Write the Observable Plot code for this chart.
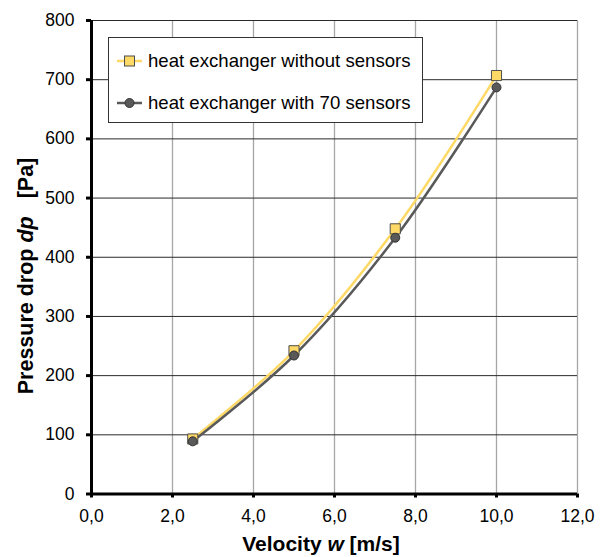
<!DOCTYPE html>
<html>
<head>
<meta charset="utf-8">
<script src="https://cdn.jsdelivr.net/npm/d3@7"></script>
<script src="https://cdn.jsdelivr.net/npm/@observablehq/plot@0.6"></script>
<style>
  html, body { margin: 0; padding: 0; background: #fff; }
  #wrap { position: relative; width: 606px; height: 557px; font-family: "Liberation Sans", Arial, sans-serif; }
  #legend { position: absolute; left: 108px; top: 37px; width: 315px; height: 86px; background: #fff; border: 1px solid #333; box-sizing: border-box; }
  .row { position: absolute; left: 8px; height: 24px; display: flex; align-items: center; font-size: 18.6px; color: #000; white-space: nowrap; }
  .row svg { margin-right: 6px; }
</style>
</head>
<body>
<div id="wrap"></div>
<script>
const velocity = [2.5, 5.0, 7.5, 10.0];
const withoutSensors = [93, 242, 448, 707];
const with70Sensors = [89, 234, 433, 687];
const seriesNames = ["heat exchanger without sensors", "heat exchanger with 70 sensors"];
const xTicks = [0, 2, 4, 6, 8, 10, 12];
const yTicks = [0, 100, 200, 300, 400, 500, 600, 700, 800];

const dataA = velocity.map((v, i) => ({x: v, y: withoutSensors[i]}));
const dataB = velocity.map((v, i) => ({x: v, y: with70Sensors[i]}));
const fmt = d => d.toFixed(1).replace(".", ",");

const yellow = "#FFD966";
const gray = "#595959";

const chart = Plot.plot({
  width: 606,
  height: 557,
  marginLeft: 91,
  marginRight: 29,
  marginTop: 20,
  marginBottom: 63.5,
  style: {fontFamily: "Liberation Sans, Arial, sans-serif", fontSize: "17.5px", color: "#000", background: "#fff"},
  x: {domain: [0, 12]},
  y: {domain: [0, 800]},
  marks: [
    Plot.gridX(xTicks.slice(1), {stroke: "#a6a6a6", strokeOpacity: 1, strokeWidth: 1.3}),
    Plot.gridY(yTicks.slice(1), {stroke: "#2a2a2a", strokeOpacity: 1, strokeWidth: 1}),
    Plot.axisX(xTicks, {tickSize: 4, tickPadding: 12, tickFormat: fmt, stroke: "#000", strokeWidth: 3, fontSize: 17.5, label: null}),
    Plot.axisY(yTicks, {tickSize: 5, tickFormat: () => "", stroke: "#000", strokeWidth: 3, label: null}),
    Plot.text(yTicks, {x: 0, y: d => d, text: d => String(d), textAnchor: "end", dx: -17, fontSize: 17.5, fill: "#000"}),
    Plot.ruleX([0], {stroke: "#000", strokeWidth: 3}),
    Plot.ruleY([0], {stroke: "#000", strokeWidth: 3}),
    Plot.line(dataA, {x: "x", y: "y", stroke: yellow, strokeWidth: 2.5, curve: "catmull-rom"}),
    Plot.line(dataB, {x: "x", y: "y", stroke: gray, strokeWidth: 2.5, curve: "catmull-rom"}),
    Plot.dot(dataA, {x: "x", y: "y", symbol: "square", r: 5.7, fill: yellow, stroke: "#4d4d4d", strokeWidth: 1}),
    Plot.dot(dataB, {x: "x", y: "y", symbol: "circle", r: 4.5, fill: gray, stroke: "#333", strokeWidth: 1})
  ]
});

const wrap = document.getElementById("wrap");
wrap.appendChild(chart);

const svg = d3.select(chart);
const xl = svg.append("text")
  .attr("x", 321).attr("y", 551)
  .attr("text-anchor", "middle")
  .attr("font-family", "Liberation Sans, Arial, sans-serif")
  .attr("font-size", 21).attr("font-weight", "bold").attr("fill", "#000");
xl.append("tspan").text("Velocity ");
xl.append("tspan").attr("font-style", "italic").text("w");
xl.append("tspan").text(" [m/s]");

const yl = svg.append("text")
  .attr("transform", "translate(33,276) rotate(-90)")
  .attr("text-anchor", "middle")
  .attr("font-family", "Liberation Sans, Arial, sans-serif")
  .attr("font-size", 21.5).attr("font-weight", "bold").attr("fill", "#000");
yl.append("tspan").text("Pressure drop ");
yl.append("tspan").attr("font-style", "italic").text("dp");
yl.append("tspan").text("\u00a0\u00a0\u00a0[Pa]");

// legend
const legend = document.createElement("div");
legend.id = "legend";
const swatches = [
  `<svg width="25" height="14"><line x1="0" y1="7" x2="25" y2="7" stroke="${yellow}" stroke-width="2.5"/><rect x="7.5" y="2" width="10" height="10" fill="${yellow}" stroke="#4d4d4d"/></svg>`,
  `<svg width="25" height="14"><line x1="0" y1="7" x2="25" y2="7" stroke="${gray}" stroke-width="2.5"/><circle cx="12.5" cy="7" r="4.5" fill="${gray}" stroke="#333"/></svg>`
];
const tops = [11, 53];
seriesNames.forEach((n, i) => {
  const r = document.createElement("div");
  r.className = "row";
  r.style.top = tops[i] + "px";
  r.innerHTML = swatches[i] + `<span>${n}</span>`;
  legend.appendChild(r);
});
wrap.appendChild(legend);
</script>
</body>
</html>
